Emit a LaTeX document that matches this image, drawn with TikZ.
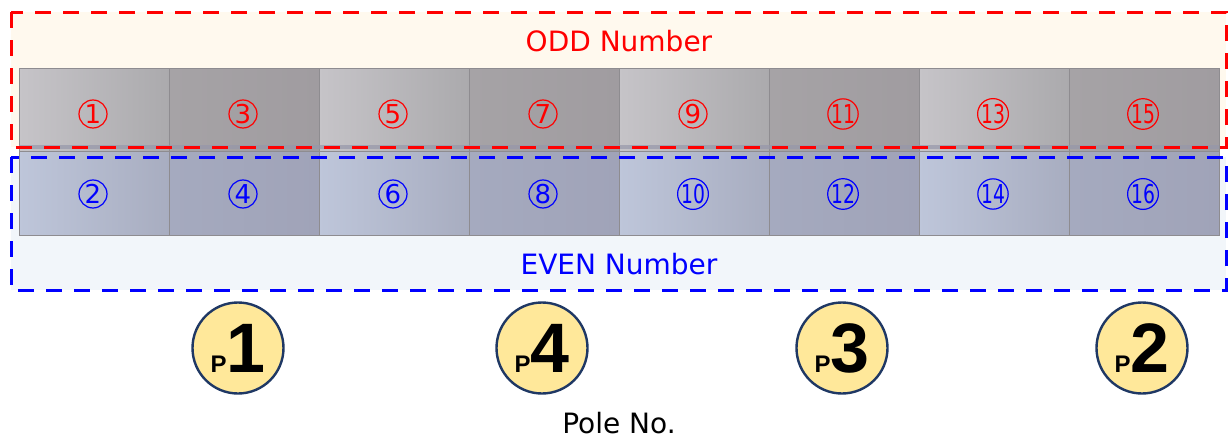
\documentclass[tikz,border=0pt]{standalone}
\usepackage{fontspec}
\usepackage{graphicx}
\newfontfamily\labelfont{DejaVu Sans}
\newfontfamily\polefont{Liberation Sans}

\definecolor{oddbg}{HTML}{FFF9EE}
\definecolor{evenbg}{HTML}{F2F6FA}
\definecolor{grayL}{HTML}{C6C4C8}
\definecolor{grayR}{HTML}{ABAAAD}
\definecolor{grayDL}{HTML}{A6A3A6}
\definecolor{grayDR}{HTML}{A09CA0}
\definecolor{blueL}{HTML}{BEC6DA}
\definecolor{blueR}{HTML}{A8ADC0}
\definecolor{blueDL}{HTML}{A5AABF}
\definecolor{blueDR}{HTML}{A0A3B8}
\definecolor{seam}{HTML}{9697AA}
\definecolor{cellline}{HTML}{8E8C90}
\definecolor{polefill}{HTML}{FFE89A}
\definecolor{poleline}{HTML}{1F3864}

\tikzset{
  cell/.style={rectangle, draw=cellline, line width=0.4pt, inner sep=0pt,
    minimum width=75pt},
  cellodd/.style={cell, minimum height=41.5pt},
  celleven/.style={cell, minimum height=42pt},
  numcirc/.style={circle, line width=0.6pt, minimum size=14pt, inner sep=0pt,
    font=\labelfont\fontsize{13}{13}\selectfont},
  groupbox/.style={line width=1.5pt, dash pattern=on 8pt off 6pt},
  grouplabel/.style={font=\labelfont\fontsize{14}{14}\selectfont},
  polecirc/.style={circle, fill=polefill, draw=poleline, line width=1.2pt,
    minimum size=45.5pt, inner sep=0pt, font=\polefont\bfseries}
}

\newcommand{\cnum}[1]{\ifnum#1>9 \scalebox{0.72}[1]{#1}\else #1\fi}

\begin{document}
\begin{tikzpicture}[x=0.5pt,y=0.5pt,yscale=-1,xscale=1]
\useasboundingbox (0,0) rectangle (1228,439);

% --- group backgrounds ---
\fill [oddbg]  (11,12)  rectangle (1226,147);
\fill [evenbg] (11,157) rectangle (1226,290);

% --- cells ---
\foreach \i in {0,2,4,6} {
  \node [cellodd, left color=grayL, right color=grayR] (o\i) at (150*\i+94,109.5) {};
  \node [celleven, left color=blueL, right color=blueR] (e\i) at (150*\i+94,193) {};
}
\foreach \i in {1,3,5,7} {
  \node [cellodd, left color=grayDL, right color=grayDR] (o\i) at (150*\i+94,109.5) {};
  \node [celleven, left color=blueDL, right color=blueDR] (e\i) at (150*\i+94,193) {};
}
\fill [seam, opacity=0.7] (o0.south west) ++(0,-2) rectangle ([yshift=-3pt]e7.north east);

% --- circled numbers ---
\foreach \i [evaluate=\i as \k using int(2*\i+1),
             evaluate=\i as \m using int(2*\i+2)] in {0,...,7} {
  \node [numcirc, draw=red, text=red]   (n\k) at (150*\i+93,114) {\cnum{\k}};
  \node [numcirc, draw=blue, text=blue] (n\m) at (150*\i+93,194) {\cnum{\m}};
}

% --- dashed group frames ---
\draw [groupbox, red]  (11,12)  rectangle (1226,147);
\draw [groupbox, blue] (11,157) rectangle (1226,290);

\node [grouplabel, text=red]  (oddlabel)  at (619,41)  {ODD Number};
\node [grouplabel, text=blue] (evenlabel) at (619,264) {EVEN Number};

% --- poles ---
\foreach \x/\p in {238/1, 542/4, 842/3, 1142/2}
  \node [polecirc] (p\p) at (\x,348)
    {{\fontsize{12}{12}\selectfont P}{\fontsize{35}{35}\selectfont\p}};

\node [grouplabel] (polelabel) at (619,423) {Pole No.};

\end{tikzpicture}
\end{document}
